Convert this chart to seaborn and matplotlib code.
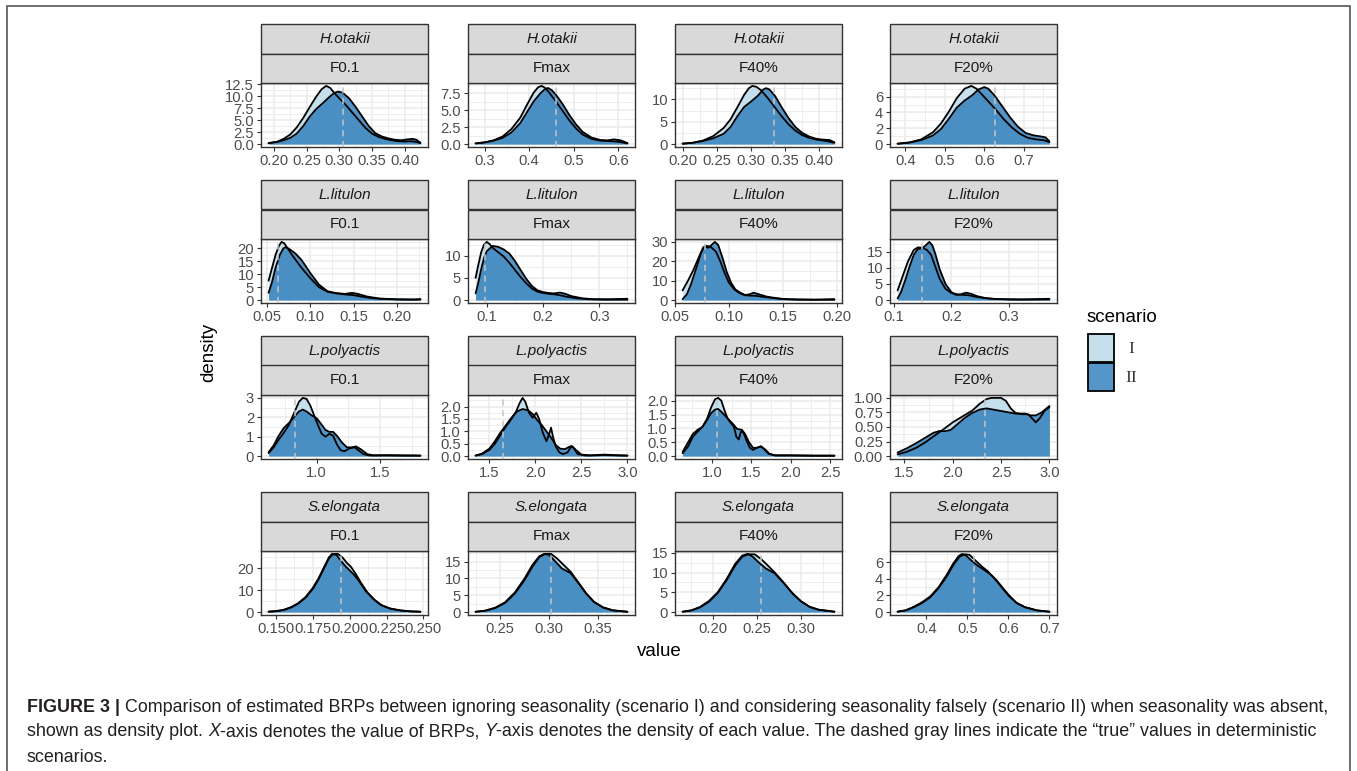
import numpy as np
import pandas as pd
import matplotlib
matplotlib.use("Agg")
import matplotlib.pyplot as plt
import seaborn as sns
from matplotlib.patches import Rectangle

# ---------------- data ----------------
SPECIES = ["H.otakii", "L.litulon", "L.polyactis", "S.elongata"]
BRPS = ["F0.1", "Fmax", "F40%", "F20%"]
SCENARIOS = ["I", "II"]

TRUE_VALUES = [[0.306, 0.46, 0.334, 0.626],
               [0.063, 0.097, 0.078, 0.15],
               [0.83, 1.65, 1.07, 2.33],
               [0.194, 0.302, 0.254, 0.515]]

X_TICKS = [
    [["0.20", "0.25", "0.30", "0.35", "0.40"], ["0.3", "0.4", "0.5", "0.6"],
     ["0.20", "0.25", "0.30", "0.35", "0.40"], ["0.4", "0.5", "0.6", "0.7"]],
    [["0.05", "0.10", "0.15", "0.20"], ["0.1", "0.2", "0.3"],
     ["0.05", "0.10", "0.15", "0.20"], ["0.1", "0.2", "0.3"]],
    [["1.0", "1.5"], ["1.5", "2.0", "2.5", "3.0"],
     ["1.0", "1.5", "2.0", "2.5"], ["1.5", "2.0", "2.5", "3.0"]],
    [["0.150", "0.175", "0.200", "0.225", "0.250"], ["0.25", "0.30", "0.35"],
     ["0.20", "0.25", "0.30"], ["0.4", "0.5", "0.6", "0.7"]],
]
Y_TICKS = [
    [["0.0", "2.5", "5.0", "7.5", "10.0", "12.5"], ["0.0", "2.5", "5.0", "7.5"],
     ["0", "5", "10"], ["0", "2", "4", "6"]],
    [["0", "5", "10", "15", "20"], ["0", "5", "10"],
     ["0", "10", "20", "30"], ["0", "5", "10", "15"]],
    [["0", "1", "2", "3"], ["0.0", "0.5", "1.0", "1.5", "2.0"],
     ["0.0", "0.5", "1.0", "1.5", "2.0"], ["0.00", "0.25", "0.50", "0.75", "1.00"]],
    [["0", "10", "20"], ["0", "5", "10", "15"],
     ["0", "5", "10", "15"], ["0", "2", "4", "6"]],
]

# density curves (value, density)
HO_F01_I = [(0.192,0.2),(0.205,0.5),(0.215,1.1),(0.225,2.0),(0.235,3.5),(0.245,5.5),(0.255,7.8),(0.265,10.0),(0.273,11.5),(0.28,12.2),(0.286,11.8),(0.292,10.8),(0.30,9.6),(0.31,8.2),(0.32,6.6),(0.33,5.0),(0.34,3.4),(0.35,2.2),(0.36,1.5),(0.37,1.1),(0.38,0.8),(0.39,0.6),(0.40,0.55),(0.41,0.6),(0.418,0.45),(0.424,0.2)]
HO_F01_II = [(0.192,0.2),(0.205,0.45),(0.215,0.8),(0.225,1.3),(0.235,2.2),(0.245,3.8),(0.255,5.8),(0.265,7.4),(0.275,8.6),(0.285,9.9),(0.292,10.7),(0.298,11.0),(0.305,10.8),(0.315,9.6),(0.325,7.8),(0.335,5.8),(0.345,3.8),(0.355,2.3),(0.365,1.6),(0.375,1.2),(0.385,0.9),(0.395,0.8),(0.405,1.0),(0.412,1.1),(0.418,0.9),(0.424,0.3)]
HO_FMAX_I = [(0.28,0.1),(0.30,0.25),(0.32,0.55),(0.34,1.1),(0.36,2.2),(0.38,3.9),(0.395,5.8),(0.41,7.6),(0.42,8.4),(0.428,8.6),(0.436,8.3),(0.445,7.6),(0.46,6.3),(0.475,4.9),(0.49,3.5),(0.505,2.3),(0.52,1.4),(0.54,0.75),(0.56,0.5),(0.58,0.45),(0.60,0.35),(0.62,0.1)]
HO_FMAX_II = [(0.28,0.1),(0.30,0.25),(0.32,0.5),(0.34,0.9),(0.36,1.7),(0.38,3.1),(0.395,4.7),(0.41,6.3),(0.425,7.5),(0.435,8.1),(0.442,8.3),(0.45,8.0),(0.46,7.3),(0.475,5.9),(0.49,4.3),(0.505,2.9),(0.52,1.8),(0.54,0.95),(0.56,0.6),(0.575,0.55),(0.59,0.7),(0.605,0.55),(0.62,0.15)]
HO_F40_I = [(0.20,0.1),(0.215,0.3),(0.23,0.8),(0.245,1.8),(0.26,3.6),(0.27,5.5),(0.28,8.2),(0.29,11.0),(0.297,12.5),(0.302,13.0),(0.308,12.8),(0.315,12.0),(0.325,10.2),(0.335,8.2),(0.345,6.2),(0.355,4.4),(0.365,3.0),(0.375,2.0),(0.385,1.4),(0.395,1.0),(0.41,0.7),(0.422,0.3)]
HO_F40_II = [(0.20,0.1),(0.215,0.3),(0.23,0.7),(0.245,1.3),(0.26,2.3),(0.27,3.8),(0.28,6.2),(0.29,8.3),(0.30,9.5),(0.31,10.8),(0.318,12.2),(0.322,12.5),(0.327,12.2),(0.335,10.8),(0.345,8.2),(0.355,5.8),(0.365,3.8),(0.375,2.5),(0.385,1.7),(0.395,1.2),(0.405,1.0),(0.415,0.9),(0.422,0.4)]
HO_F20_I = [(0.38,0.05),(0.41,0.2),(0.44,0.6),(0.47,1.5),(0.49,2.6),(0.51,4.1),(0.53,5.8),(0.55,7.0),(0.567,7.35),(0.58,7.0),(0.595,6.2),(0.61,5.4),(0.63,4.3),(0.65,3.1),(0.67,2.1),(0.69,1.3),(0.71,0.8),(0.73,0.6),(0.75,0.5),(0.765,0.25)]
HO_F20_II = [(0.38,0.05),(0.41,0.2),(0.44,0.5),(0.47,1.1),(0.49,1.9),(0.51,3.2),(0.53,4.6),(0.55,5.5),(0.57,6.2),(0.585,6.9),(0.60,7.2),(0.61,7.0),(0.625,6.2),(0.645,4.8),(0.665,3.4),(0.685,2.2),(0.705,1.4),(0.725,1.1),(0.745,0.95),(0.755,0.85),(0.765,0.35)]

LL_F01_I = [(0.052,7.5),(0.056,12.5),(0.060,17.5),(0.064,21.0),(0.067,22.5),(0.070,22.0),(0.074,20.0),(0.08,17.0),(0.09,12.5),(0.10,8.5),(0.11,5.0),(0.12,3.2),(0.13,2.6),(0.14,2.2),(0.15,1.9),(0.16,1.3),(0.17,0.8),(0.18,0.5),(0.20,0.25),(0.227,0.2)]
LL_F01_II = [(0.052,2.8),(0.056,7.0),(0.060,12.5),(0.065,17.5),(0.069,20.0),(0.072,20.5),(0.077,19.5),(0.083,18.0),(0.09,15.5),(0.10,10.5),(0.11,6.0),(0.12,3.4),(0.13,2.7),(0.14,2.4),(0.148,2.8),(0.155,2.4),(0.165,1.4),(0.18,0.6),(0.20,0.3),(0.22,0.2),(0.227,0.4)]
LL_FMAX_I = [(0.08,5.0),(0.085,8.0),(0.09,10.8),(0.095,12.5),(0.10,13.1),(0.105,12.6),(0.11,11.8),(0.12,10.8),(0.13,9.8),(0.14,8.4),(0.15,6.8),(0.16,5.2),(0.17,3.8),(0.18,2.6),(0.19,1.9),(0.20,1.6),(0.21,1.4),(0.22,1.3),(0.23,1.1),(0.24,0.8),(0.26,0.4),(0.28,0.2),(0.31,0.1),(0.35,0.1)]
LL_FMAX_II = [(0.08,1.5),(0.085,4.0),(0.09,7.0),(0.095,9.5),(0.10,11.0),(0.11,12.2),(0.12,12.0),(0.13,11.4),(0.14,10.5),(0.15,8.8),(0.16,6.8),(0.17,4.8),(0.18,3.2),(0.19,2.2),(0.20,1.8),(0.21,1.6),(0.22,1.5),(0.23,1.7),(0.24,1.4),(0.25,0.9),(0.27,0.4),(0.29,0.2),(0.32,0.2),(0.35,0.3)]
LL_F40_I = [(0.057,5.0),(0.062,10.0),(0.067,15.5),(0.072,22.0),(0.076,27.0),(0.079,28.0),(0.083,27.5),(0.088,25.0),(0.092,20.0),(0.096,14.0),(0.10,9.0),(0.105,5.5),(0.11,3.5),(0.115,2.5),(0.12,2.3),(0.125,2.2),(0.13,1.8),(0.14,1.1),(0.15,0.5),(0.16,0.3),(0.18,0.2),(0.198,0.2)]
LL_F40_II = [(0.057,0.5),(0.061,3.0),(0.065,8.5),(0.07,17.0),(0.074,24.0),(0.077,27.5),(0.081,27.0),(0.084,28.5),(0.087,30.0),(0.09,28.5),(0.094,22.0),(0.098,14.5),(0.102,9.0),(0.106,5.5),(0.11,4.0),(0.115,2.6),(0.119,3.0),(0.123,3.8),(0.128,3.0),(0.135,1.8),(0.142,1.2),(0.15,0.6),(0.165,0.3),(0.18,0.2),(0.198,0.5)]
LL_F20_I = [(0.107,3.0),(0.115,7.0),(0.125,12.0),(0.135,15.5),(0.142,16.3),(0.15,16.2),(0.158,15.5),(0.165,14.0),(0.172,10.5),(0.18,6.5),(0.19,3.5),(0.20,2.2),(0.21,1.8),(0.22,1.6),(0.23,1.5),(0.24,1.1),(0.25,0.8),(0.27,0.4),(0.30,0.2),(0.34,0.15),(0.37,0.2)]
LL_F20_II = [(0.107,0.5),(0.113,2.5),(0.12,6.0),(0.128,10.5),(0.135,14.0),(0.142,15.8),(0.15,16.0),(0.156,17.0),(0.162,18.0),(0.167,17.0),(0.172,14.5),(0.18,9.5),(0.19,5.0),(0.20,2.5),(0.208,1.6),(0.215,1.7),(0.226,2.3),(0.235,1.9),(0.245,1.2),(0.26,0.6),(0.28,0.3),(0.32,0.2),(0.37,0.4)]

LP_F01_I = [(0.62,0.15),(0.66,0.45),(0.70,0.85),(0.74,1.2),(0.78,1.6),(0.82,2.2),(0.86,2.8),(0.89,3.0),(0.92,2.95),(0.95,2.6),(0.98,2.1),(1.01,1.6),(1.04,1.15),(1.07,1.0),(1.10,1.15),(1.13,1.05),(1.16,0.6),(1.19,0.3),(1.22,0.25),(1.26,0.4),(1.30,0.45),(1.33,0.3),(1.37,0.1),(1.42,0.03),(1.55,0.03),(1.7,0.02),(1.82,0.02)]
LP_F01_II = [(0.62,0.2),(0.66,0.55),(0.70,1.05),(0.74,1.45),(0.78,1.7),(0.82,2.0),(0.86,2.3),(0.89,2.4),(0.92,2.3),(0.96,2.1),(1.00,1.95),(1.03,1.7),(1.07,1.35),(1.10,1.25),(1.13,1.25),(1.16,1.05),(1.20,0.7),(1.24,0.45),(1.28,0.45),(1.31,0.5),(1.35,0.35),(1.40,0.1),(1.45,0.04),(1.55,0.05),(1.7,0.04),(1.82,0.03)]
LP_FMAX_I = [(1.35,0.02),(1.42,0.08),(1.50,0.25),(1.56,0.5),(1.62,0.85),(1.68,1.2),(1.74,1.5),(1.79,1.8),(1.83,2.15),(1.86,2.35),(1.89,2.2),(1.93,1.75),(1.97,1.55),(2.01,1.75),(2.04,1.5),(2.08,0.95),(2.12,0.6),(2.15,0.9),(2.17,1.15),(2.19,0.8),(2.22,0.4),(2.26,0.15),(2.30,0.08),(2.35,0.15),(2.39,0.4),(2.42,0.3),(2.46,0.08),(2.55,0.02),(2.75,0.04),(3.0,0.02)]
LP_FMAX_II = [(1.35,0.02),(1.42,0.1),(1.50,0.3),(1.56,0.6),(1.62,0.95),(1.68,1.25),(1.74,1.55),(1.80,1.8),(1.86,1.9),(1.92,1.85),(1.97,1.7),(2.02,1.45),(2.07,1.25),(2.12,1.0),(2.17,0.75),(2.22,0.45),(2.27,0.3),(2.32,0.28),(2.37,0.38),(2.40,0.4),(2.44,0.25),(2.50,0.06),(2.6,0.03),(2.75,0.06),(2.9,0.03),(3.0,0.02)]
LP_F40_I = [(0.63,0.1),(0.70,0.35),(0.76,0.7),(0.82,0.88),(0.88,1.05),(0.94,1.35),(0.99,1.75),(1.04,2.05),(1.08,2.1),(1.12,2.0),(1.16,1.65),(1.20,1.35),(1.24,1.2),(1.28,1.05),(1.31,0.7),(1.34,0.6),(1.37,0.9),(1.40,0.85),(1.44,0.55),(1.48,0.3),(1.52,0.22),(1.57,0.3),(1.62,0.35),(1.66,0.25),(1.72,0.08),(1.8,0.02),(2.0,0.02),(2.3,0.01),(2.55,0.01)]
LP_F40_II = [(0.63,0.15),(0.70,0.5),(0.76,0.8),(0.82,0.95),(0.88,1.05),(0.94,1.3),(0.99,1.55),(1.04,1.68),(1.08,1.7),(1.12,1.6),(1.17,1.45),(1.22,1.3),(1.27,1.15),(1.32,0.98),(1.38,0.95),(1.42,0.8),(1.47,0.5),(1.52,0.3),(1.57,0.3),(1.62,0.35),(1.67,0.25),(1.73,0.08),(1.8,0.03),(2.0,0.03),(2.3,0.02),(2.55,0.02)]
LP_F20_I = [(1.43,0.03),(1.52,0.07),(1.62,0.14),(1.72,0.24),(1.82,0.36),(1.92,0.48),(2.0,0.58),(2.1,0.68),(2.2,0.78),(2.28,0.9),(2.35,0.98),(2.4,1.0),(2.5,1.0),(2.55,0.95),(2.6,0.82),(2.65,0.74),(2.72,0.72),(2.78,0.72),(2.82,0.65),(2.86,0.58),(2.9,0.65),(2.95,0.78),(3.0,0.84)]
LP_F20_II = [(1.43,0.06),(1.52,0.13),(1.62,0.22),(1.72,0.32),(1.8,0.4),(1.86,0.43),(1.93,0.43),(1.98,0.45),(2.05,0.55),(2.12,0.65),(2.2,0.74),(2.28,0.8),(2.35,0.82),(2.45,0.79),(2.55,0.76),(2.65,0.73),(2.75,0.73),(2.8,0.7),(2.86,0.7),(2.92,0.75),(2.97,0.82),(3.0,0.86)]

SE_F01_I = [(0.145,0.2),(0.15,0.4),(0.155,0.9),(0.16,2.0),(0.165,3.8),(0.17,6.5),(0.175,10.5),(0.179,15.0),(0.183,20.5),(0.186,24.5),(0.189,26.5),(0.192,26.5),(0.195,25.0),(0.198,22.5),(0.201,20.5),(0.204,17.5),(0.208,13.0),(0.212,9.0),(0.217,5.5),(0.222,3.0),(0.228,1.5),(0.235,0.7),(0.242,0.3),(0.248,0.15)]
SE_F01_II = [(0.145,0.2),(0.15,0.45),(0.155,1.0),(0.16,2.2),(0.165,4.0),(0.17,6.8),(0.175,11.0),(0.179,15.5),(0.183,21.0),(0.186,25.0),(0.188,26.5),(0.191,26.0),(0.194,23.5),(0.197,21.0),(0.20,19.0),(0.203,17.0),(0.207,13.5),(0.211,9.5),(0.216,6.0),(0.221,3.3),(0.227,1.7),(0.234,0.8),(0.241,0.35),(0.248,0.2)]
SE_FMAX_I = [(0.225,0.1),(0.235,0.4),(0.245,1.2),(0.255,2.7),(0.265,5.5),(0.275,9.5),(0.283,13.5),(0.29,16.3),(0.296,17.3),(0.302,17.3),(0.308,16.0),(0.315,14.0),(0.322,12.0),(0.33,8.8),(0.338,5.5),(0.346,3.0),(0.355,1.4),(0.365,0.5),(0.38,0.1)]
SE_FMAX_II = [(0.225,0.1),(0.235,0.45),(0.245,1.3),(0.255,2.9),(0.265,5.8),(0.275,10.0),(0.283,14.0),(0.29,16.6),(0.295,17.3),(0.30,17.0),(0.306,15.2),(0.313,13.0),(0.322,11.6),(0.33,8.6),(0.338,5.5),(0.346,3.0),(0.355,1.4),(0.365,0.55),(0.38,0.1)]
SE_F40_I = [(0.165,0.1),(0.175,0.4),(0.185,1.2),(0.195,2.6),(0.205,4.8),(0.215,8.0),(0.225,11.8),(0.233,14.0),(0.24,14.6),(0.247,14.6),(0.254,13.5),(0.262,11.8),(0.27,10.0),(0.28,7.5),(0.29,4.8),(0.30,2.7),(0.31,1.3),(0.32,0.6),(0.338,0.1)]
SE_F40_II = [(0.165,0.1),(0.175,0.45),(0.185,1.3),(0.195,2.8),(0.205,5.0),(0.215,8.3),(0.225,12.2),(0.233,14.3),(0.239,14.7),(0.245,14.0),(0.252,12.5),(0.26,11.0),(0.27,9.8),(0.28,7.4),(0.29,4.8),(0.30,2.7),(0.31,1.3),(0.32,0.6),(0.338,0.1)]
SE_F20_I = [(0.33,0.05),(0.35,0.2),(0.37,0.6),(0.39,1.1),(0.41,1.8),(0.43,2.9),(0.45,4.3),(0.465,5.6),(0.48,6.6),(0.492,6.95),(0.505,6.9),(0.52,6.2),(0.535,5.5),(0.55,4.9),(0.565,4.1),(0.58,3.2),(0.60,2.0),(0.62,1.1),(0.64,0.6),(0.67,0.2),(0.70,0.05)]
SE_F20_II = [(0.33,0.05),(0.35,0.22),(0.37,0.65),(0.39,1.2),(0.41,1.9),(0.43,3.0),(0.45,4.5),(0.465,5.8),(0.478,6.7),(0.487,7.0),(0.497,6.8),(0.51,6.2),(0.525,5.6),(0.54,5.1),(0.555,4.6),(0.57,3.9),(0.585,3.0),(0.60,2.1),(0.62,1.1),(0.64,0.6),(0.67,0.2),(0.70,0.05)]

CURVES = {
    ("H.otakii", "F0.1"): (HO_F01_I, HO_F01_II), ("H.otakii", "Fmax"): (HO_FMAX_I, HO_FMAX_II),
    ("H.otakii", "F40%"): (HO_F40_I, HO_F40_II), ("H.otakii", "F20%"): (HO_F20_I, HO_F20_II),
    ("L.litulon", "F0.1"): (LL_F01_I, LL_F01_II), ("L.litulon", "Fmax"): (LL_FMAX_I, LL_FMAX_II),
    ("L.litulon", "F40%"): (LL_F40_I, LL_F40_II), ("L.litulon", "F20%"): (LL_F20_I, LL_F20_II),
    ("L.polyactis", "F0.1"): (LP_F01_I, LP_F01_II), ("L.polyactis", "Fmax"): (LP_FMAX_I, LP_FMAX_II),
    ("L.polyactis", "F40%"): (LP_F40_I, LP_F40_II), ("L.polyactis", "F20%"): (LP_F20_I, LP_F20_II),
    ("S.elongata", "F0.1"): (SE_F01_I, SE_F01_II), ("S.elongata", "Fmax"): (SE_FMAX_I, SE_FMAX_II),
    ("S.elongata", "F40%"): (SE_F40_I, SE_F40_II), ("S.elongata", "F20%"): (SE_F20_I, SE_F20_II),
}

rows = []
for (sp, brp), pair in CURVES.items():
    for sc, pts in zip(SCENARIOS, pair):
        for v, d in pts:
            rows.append((sp, brp, sc, v, d))
df = pd.DataFrame(rows, columns=["species", "brp", "scenario", "value", "density"])

# ---------------- style ----------------
sns.set_theme(style="white")
plt.rcParams["font.family"] = ["Liberation Sans", "DejaVu Sans"]

W, H = 1357, 771
fig = plt.figure(figsize=(W / 100, H / 100), dpi=100)
fig.patch.set_facecolor("white")

def fx(x):
    return x / W

def fy(y):
    return 1 - y / H

COL_LEFT = [261, 468, 675, 890]
PANEL_W = 167
ROW_TOP0 = 83
ROW_STEP = 156
PANEL_H = 64
STRIP_H = 29.5

FILL_I = "#c6dfec"
FILL_II = "#2b7bba"
ALPHA_II = 0.8
GRID = "#ebebeb"
DARK = "#333333"

for r, sp in enumerate(SPECIES):
    for c, brp in enumerate(BRPS):
        left = COL_LEFT[c]
        top = ROW_TOP0 + r * ROW_STEP
        ax = fig.add_axes([fx(left), fy(top + PANEL_H), PANEL_W / W, PANEL_H / H])
        ax.set_facecolor("white")
        sub = df[(df.species == sp) & (df.brp == brp)]
        xmin, xmax = sub.value.min(), sub.value.max()
        R = xmax - xmin
        M = sub.density.max()
        ax.set_xlim(xmin - 0.05 * R, xmax + 0.05 * R)
        ax.set_ylim(-0.05 * M, 1.05 * M)

        xt = [float(s) for s in X_TICKS[r][c]]
        yt = [float(s) for s in Y_TICKS[r][c]]
        ax.set_xticks(xt)
        ax.set_xticklabels(X_TICKS[r][c])
        ax.set_yticks(yt)
        ax.set_yticklabels(Y_TICKS[r][c])
        # minor breaks at midpoints (ggplot style)
        for axis, t, lim in ((ax.xaxis, xt, ax.get_xlim()), (ax.yaxis, yt, ax.get_ylim())):
            step = t[1] - t[0]
            mids = [t[0] - step / 2] + [(a + b) / 2 for a, b in zip(t[:-1], t[1:])] + [t[-1] + step / 2]
            mids = [m for m in mids if lim[0] <= m <= lim[1]]
            axis.set_ticks(mids, minor=True)
        ax.grid(True, which="major", color=GRID, lw=1.1, zorder=0)
        ax.grid(True, which="minor", color=GRID, lw=0.6, zorder=0)
        ax.set_axisbelow(True)

        for sc, fc, al in (("I", FILL_I, 1.0), ("II", FILL_II, ALPHA_II)):
            s = sub[sub.scenario == sc].sort_values("value")
            ax.fill_between(s.value, 0, s.density, color=fc, alpha=al, lw=0, zorder=2)
            sns.lineplot(data=s, x="value", y="density", color="black", lw=1.3,
                         estimator=None, sort=True, ax=ax, zorder=3)
        ax.axvline(TRUE_VALUES[r][c], color="#c4c4c4", lw=1.1, ls=(0, (4, 3)), zorder=4)

        ax.set_xlabel("")
        ax.set_ylabel("")
        ax.tick_params(which="major", length=3, width=0.8, color=DARK, labelsize=10.6,
                       labelcolor="#4d4d4d", pad=2, bottom=True, left=True)
        ax.tick_params(which="minor", length=0)
        for sp_ in ax.spines.values():
            sp_.set_color(DARK)
            sp_.set_linewidth(1.0)

        # strips
        for k, (label, style) in enumerate(((sp, "italic"), (brp, "normal"))):
            st = top - 2 * STRIP_H + k * STRIP_H
            fig.patches.append(Rectangle((fx(left), fy(st + STRIP_H)), PANEL_W / W, STRIP_H / H,
                                         transform=fig.transFigure, facecolor="#d9d9d9",
                                         edgecolor=DARK, lw=1.0, zorder=1))
            fig.text(fx(left + PANEL_W / 2), fy(st + STRIP_H / 2), label, ha="center", va="center",
                     fontsize=11, fontstyle=style, color="#1a1a1a")

# axis titles
fig.text(fx(659), fy(651), "value", ha="center", va="center", fontsize=13.5, color="black")
fig.text(fx(209), fy(352), "density", ha="center", va="center", rotation=90, fontsize=13.5, color="black")

# legend
fig.text(fx(1087), fy(317), "scenario", ha="left", va="center", fontsize=13.5, color="black")
for i, (lab, fc, al) in enumerate((("I", FILL_I, 1.0), ("II", FILL_II, ALPHA_II))):
    y0 = 334 + i * 29
    fig.patches.append(Rectangle((fx(1088), fy(y0 + 28)), 26 / W, 28 / H, transform=fig.transFigure,
                                 facecolor="white", edgecolor="none", zorder=1))
    fig.patches.append(Rectangle((fx(1088), fy(y0 + 28)), 26 / W, 28 / H, transform=fig.transFigure,
                                 facecolor=fc, alpha=al, edgecolor="none", zorder=2))
    fig.patches.append(Rectangle((fx(1088), fy(y0 + 28)), 26 / W, 28 / H, transform=fig.transFigure,
                                 facecolor="none", edgecolor="black", lw=1.3, zorder=3))
    fig.text(fx(1131), fy(y0 + 15), lab, ha="center", va="center", fontsize=12.5,
             family=["Liberation Serif", "DejaVu Serif"], color="#333333")

# frame
fig.patches.append(Rectangle((fx(7), -0.02), (1350 - 7) / W, fy(6) + 0.02, transform=fig.transFigure,
                             facecolor="none", edgecolor="#555555", lw=1.2, zorder=0))

# caption
renderer = fig.canvas.get_renderer()
CAP_SIZE = 12.9
CAP_COLOR = "#231f20"

def run_width(txt, weight, style):
    t1 = fig.text(0, 0, txt + "|", fontsize=CAP_SIZE, fontweight=weight, fontstyle=style)
    t2 = fig.text(0, 0, "|", fontsize=CAP_SIZE, fontweight=weight, fontstyle=style)
    w = t1.get_window_extent(renderer).width - t2.get_window_extent(renderer).width
    t1.remove()
    t2.remove()
    return w

def draw_runs(x_px, y_px, runs):
    x = x_px
    for txt, weight, style in runs:
        fig.text(fx(x), fy(y_px), txt, fontsize=CAP_SIZE, fontweight=weight, fontstyle=style,
                 ha="left", va="center", color=CAP_COLOR)
        x += run_width(txt, weight, style)

draw_runs(27, 707, [("FIGURE 3 | ", "bold", "normal"),
                    ("Comparison of estimated BRPs between ignoring seasonality (scenario I) and considering seasonality falsely (scenario II) when seasonality was absent,", "normal", "normal")])
draw_runs(27, 732, [("shown as density plot. ", "normal", "normal"), ("X", "normal", "italic"),
                    ("-axis denotes the value of BRPs, ", "normal", "normal"), ("Y", "normal", "italic"),
                    ("-axis denotes the density of each value. The dashed gray lines indicate the \u201ctrue\u201d values in deterministic", "normal", "normal")])
draw_runs(27, 757, [("scenarios.", "normal", "normal")])

fig.savefig("out.png", dpi=100)
